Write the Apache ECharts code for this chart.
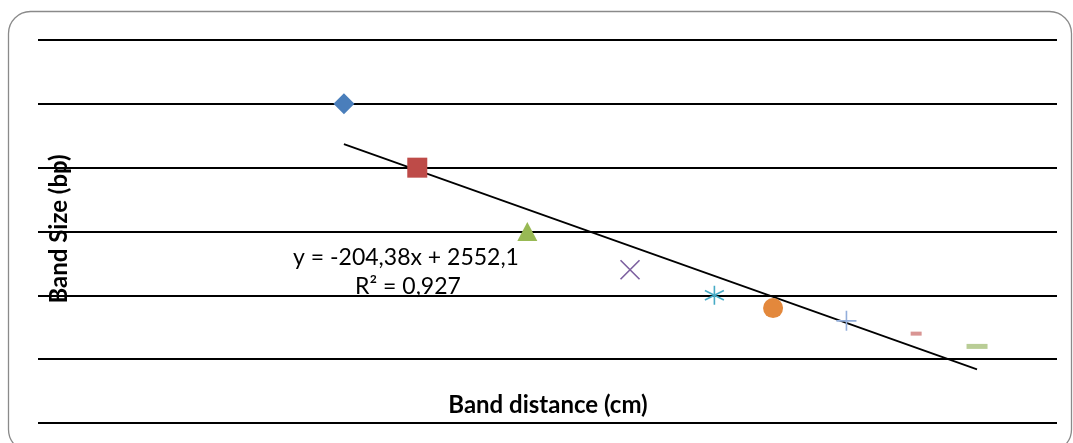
<!DOCTYPE html>
<html>
<head>
<meta charset="utf-8">
<script src="https://cdn.jsdelivr.net/npm/echarts@6/dist/echarts.min.js"></script>
<style>
html,body{margin:0;padding:0;background:#fff;}
#chart{width:1073px;height:443px;}
</style>
</head>
<body>
<div id="chart"></div>
<script>
// Data
const distances = [1.8, 2.8, 4.3, 5.7, 6.85, 7.65, 8.65, 9.6, 10.43];
const sizes = [2500, 2000, 1500, 1200, 1000, 900, 800, 700, 600];
const yTicks = [0, 500, 1000, 1500, 2000, 2500, 3000];
const trendSlope = -204.38;
const trendIntercept = 2552.1;
const equationText = 'y = -204,38x + 2552,1';
const r2Text = 'R² = 0,927';

const markerColors = ['#4A7EBB', '#BE4B48', '#98B954', '#7D60A0', '#46AAC5', '#E3883C', '#93AEDB', '#D99593', '#B9CD96'];
const markerSymbols = [
  {symbol: 'diamond', size: [21, 21], stroke: false},
  {symbol: 'rect', size: [20, 20], stroke: false},
  {symbol: 'triangle', size: [20, 19], stroke: false},
  {symbol: 'path://M0,0L10,10M10,0L0,10', size: [19, 19], stroke: true},
  {symbol: 'path://M5,0L5,10M0.7,2.5L9.3,7.5M0.7,7.5L9.3,2.5', size: [19, 19], stroke: true},
  {symbol: 'circle', size: [20, 20], stroke: false},
  {symbol: 'path://M5,0L5,10M0,5L10,5', size: [20, 20], stroke: true},
  {symbol: 'rect', size: [11, 4], stroke: false},
  {symbol: 'rect', size: [21, 5], stroke: false}
];

const chart = echarts.init(document.getElementById('chart'), null, {renderer: 'canvas'});

const pointSeries = distances.map((d, i) => {
  const m = markerSymbols[i];
  return {
    type: 'scatter',
    data: [[d, sizes[i]]],
    symbol: m.symbol,
    symbolSize: m.size,
    z: 3,
    itemStyle: m.stroke
      ? {color: 'rgba(0,0,0,0)', borderColor: markerColors[i], borderWidth: 1.6, opacity: 1}
      : {color: markerColors[i], opacity: 1}
  };
});

const xMin = Math.min(...distances), xMax = Math.max(...distances);
const trendSeries = {
  type: 'line',
  data: [[xMin, trendIntercept + trendSlope * xMin], [xMax, trendIntercept + trendSlope * xMax]],
  symbol: 'none',
  lineStyle: {color: '#000', width: 1.7},
  z: 2,
  silent: true
};

const FONT = 'Lato, "Open Sans", sans-serif';

const option = {
  animation: false,
  grid: {left: 38, right: 16, top: 40, bottom: 20, containLabel: false},
  xAxis: {
    type: 'value', min: -2.37, max: 11.52,
    axisLine: {show: false}, axisTick: {show: false}, axisLabel: {show: false}, splitLine: {show: false}
  },
  yAxis: {
    type: 'value', min: yTicks[0], max: yTicks[yTicks.length - 1], interval: yTicks[1] - yTicks[0],
    axisLine: {show: false}, axisTick: {show: false}, axisLabel: {show: false},
    splitLine: {show: true, lineStyle: {color: '#000', width: 1.8}}
  },
  graphic: [
    {type: 'rect', shape: {x: 8.5, y: 11.5, width: 1063, height: 440, r: 22},
     style: {fill: 'none', stroke: '#8a8a8a', lineWidth: 1.3}, z: -1, silent: true},
    {type: 'text', x: 59, y: 229, rotation: Math.PI / 2, z: 10,
     style: {text: 'Band Size (bp)', font: 'bold 24px ' + FONT, fill: '#000', align: 'center', verticalAlign: 'middle'}},
    {type: 'text', x: 548, y: 405, z: 10,
     style: {text: 'Band distance (cm)', font: 'bold 24px ' + FONT, fill: '#000', align: 'center', verticalAlign: 'middle'}},
    {type: 'text', x: 406, y: 258, z: 10,
     style: {text: equationText, font: '23px ' + FONT, fill: '#000', align: 'center', verticalAlign: 'middle'}},
    {type: 'text', x: 408, y: 287, z: 10,
     style: {text: r2Text, font: '23px ' + FONT, fill: '#000', align: 'center', verticalAlign: 'middle'}}
  ],
  series: [trendSeries, ...pointSeries]
};

chart.setOption(option);
</script>
</body>
</html>
